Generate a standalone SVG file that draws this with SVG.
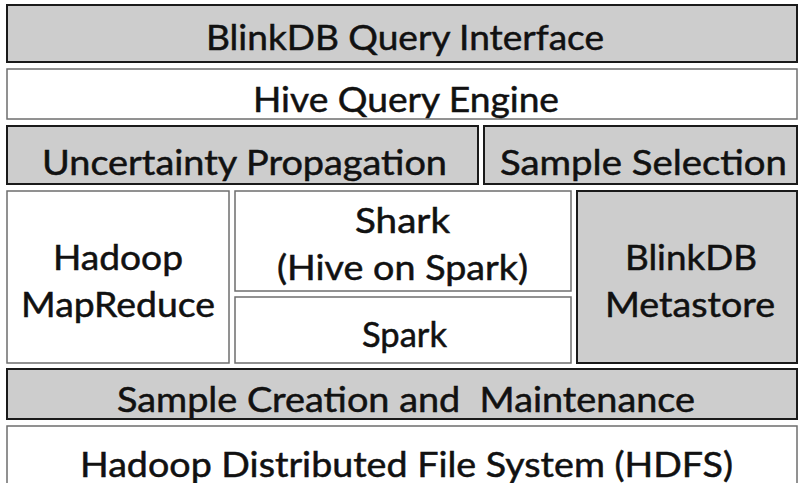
<svg xmlns="http://www.w3.org/2000/svg" width="799" height="483" viewBox="0 0 799 483">
<style>
.g{fill:#cdcdcd;stroke:#1a1a1a;stroke-width:2}
.w{fill:#ffffff;stroke:#6e6e6e;stroke-width:1.5}
text{font-family:Lato,"Open Sans","Liberation Sans",sans-serif;font-size:34px;fill:#111;stroke:#111;stroke-width:0.5}
</style>
<rect width="799" height="483" fill="#fff"/>
<g id="blinkdb-query-interface"><rect class="g" x="7" y="5" width="790" height="57"/><text x="206" y="50" textLength="398" lengthAdjust="spacingAndGlyphs">BlinkDB Query Interface</text></g>
<g id="hive-query-engine"><rect class="w" x="7" y="69" width="790" height="50"/><text x="253" y="112" textLength="306" lengthAdjust="spacingAndGlyphs">Hive Query Engine</text></g>
<g id="uncertainty-propagation"><rect class="g" x="7" y="126" width="471" height="58"/><text x="42" y="175" textLength="405" lengthAdjust="spacingAndGlyphs">Uncertainty Propagation</text></g>
<g id="sample-selection"><rect class="g" x="484" y="126" width="313" height="58"/><text x="500" y="175" textLength="287" lengthAdjust="spacingAndGlyphs">Sample Selection</text></g>
<g id="hadoop-mapreduce"><rect class="w" x="7" y="191" width="222" height="172"/><text x="53" y="270" textLength="130" lengthAdjust="spacingAndGlyphs">Hadoop</text><text x="21" y="317" textLength="194" lengthAdjust="spacingAndGlyphs">MapReduce</text></g>
<g id="shark"><rect class="w" x="235" y="191" width="336" height="100"/><text x="355" y="233" textLength="95" lengthAdjust="spacingAndGlyphs">Shark</text><text x="277" y="280" textLength="251" lengthAdjust="spacingAndGlyphs">(Hive on Spark)</text></g>
<g id="spark"><rect class="w" x="235" y="297" width="336" height="66"/><text x="362" y="347" textLength="85" lengthAdjust="spacingAndGlyphs">Spark</text></g>
<g id="blinkdb-metastore"><rect class="g" x="577" y="191" width="220" height="172"/><text x="625" y="270" textLength="132" lengthAdjust="spacingAndGlyphs">BlinkDB</text><text x="605" y="317" textLength="170" lengthAdjust="spacingAndGlyphs">Metastore</text></g>
<g id="sample-creation"><rect class="g" x="7" y="369" width="790" height="50"/><text x="117" y="412" textLength="578" lengthAdjust="spacingAndGlyphs" xml:space="preserve">Sample Creation and  Maintenance</text></g>
<g id="hdfs"><rect class="w" x="7" y="426" width="790" height="70"/><text x="80" y="477" textLength="653" lengthAdjust="spacingAndGlyphs">Hadoop Distributed File System (HDFS)</text></g>
<g id="connectors"/>
</svg>
